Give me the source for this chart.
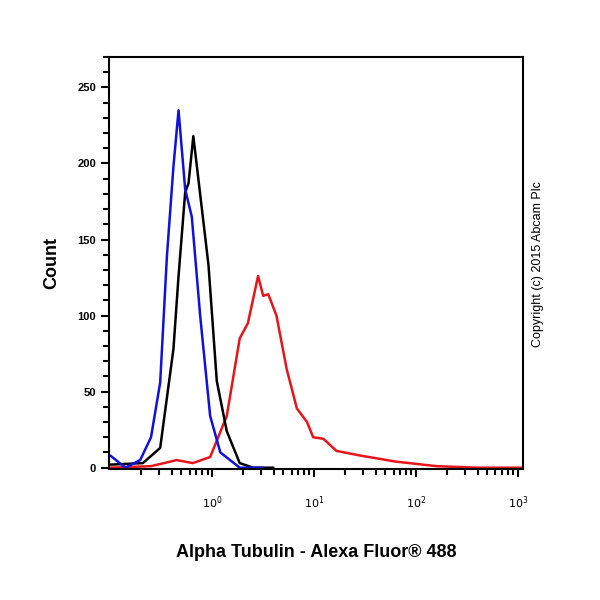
import numpy as np, pandas as pd, matplotlib
matplotlib.use("Agg")
import matplotlib.pyplot as plt, seaborn as sns
from matplotlib.ticker import LogLocator, MultipleLocator, NullFormatter, FixedLocator

blue_x = [-1.0, -0.85, -0.706, -0.6, -0.51, -0.444, -0.38, -0.33, -0.265, -0.2, -0.118, -0.02, 0.08, 0.27, 0.5]
blue_y = [8, 0, 5, 20, 56, 139, 198, 235, 183, 165, 100, 34, 10, 0, 0]
black_x = [-1.0, -0.68, -0.51, -0.38, -0.33, -0.265, -0.232, -0.185, -0.085, -0.036, 0.045, 0.143, 0.27, 0.4, 0.6]
black_y = [2, 3, 13, 78, 126, 181, 187, 218, 161, 133, 57, 24, 3, 0, 0]
red_x = [-1.0, -0.6, -0.41, -0.35, -0.19, -0.02, 0.143, 0.27, 0.35, 0.45, 0.5, 0.55, 0.63, 0.73, 0.83, 0.93, 0.99, 1.09, 1.22, 1.45, 1.8, 2.2, 2.6, 3.05]
red_y = [0, 1, 4, 5, 3, 7, 34, 85, 95, 126, 113, 114, 100, 65, 39, 30, 20, 19, 11, 8, 4, 1, 0, 0]
x_ticks = [1, 10, 100, 1000]
x_ticklabels = ['$10^0$', '$10^1$', '$10^2$', '$10^3$']

sns.set_style("ticks")
plt.rcParams['font.family'] = ['Liberation Sans', 'DejaVu Sans']
plt.rcParams['text.color'] = 'black'
plt.rcParams['xtick.color'] = 'black'
plt.rcParams['ytick.color'] = 'black'
plt.rcParams['axes.labelcolor'] = 'black'
plt.rcParams['axes.edgecolor'] = 'black'
fig = plt.figure(figsize=(6, 6), dpi=100)
ax = fig.add_axes([0.182, 0.218, 0.69, 0.687])
for xs, ys, c in [(red_x, red_y, '#e8141b'), (black_x, black_y, 'black'), (blue_x, blue_y, '#1010e0')]:
    df = pd.DataFrame({'x': 10 ** np.array(xs), 'y': ys})
    sns.lineplot(data=df, x='x', y='y', color=c, lw=1.8, ax=ax)
ax.set_xscale('log')
ax.set_xlim(10 ** -1.01, 10 ** 3.05)
ax.set_ylim(-1, 270)
ax.xaxis.set_major_locator(FixedLocator(x_ticks))
ax.set_xticklabels(x_ticklabels)
ax.xaxis.set_minor_locator(LogLocator(base=10, subs=np.arange(2, 10), numticks=20))
ax.xaxis.set_minor_formatter(NullFormatter())
ax.yaxis.set_major_locator(MultipleLocator(50))
ax.yaxis.set_minor_locator(MultipleLocator(10))
ax.tick_params(axis='both', which='major', direction='out', length=6, width=1.5, labelsize=8)
ax.tick_params(axis='both', which='minor', direction='out', length=4, width=1.5)
ax.tick_params(axis='x', pad=12)
for s in ax.spines.values():
    s.set_linewidth(1.5)
for lab in ax.get_yticklabels():
    lab.set_fontweight('bold')
ax.set_xlabel('Alpha Tubulin - Alexa Fluor® 488', fontsize=13, fontweight='bold', labelpad=24)
ax.set_ylabel('Count', fontsize=13, fontweight='bold', labelpad=12)
fig.text(0.897, 0.56, 'Copyright (c) 2015 Abcam Plc', rotation=90, fontsize=9, va='center', ha='center')
fig.savefig('out.png', dpi=100, facecolor='white')
